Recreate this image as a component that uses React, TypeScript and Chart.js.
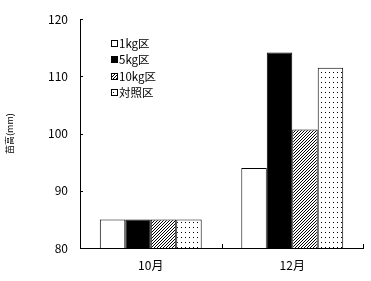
import React, { useEffect, useRef } from "react";
import { Chart, registerables } from "chart.js";

Chart.register(...registerables);

const categories = ["10月", "12月"];
const seriesNames = ["1kg区", "5kg区", "10kg区", "対照区"];
const values1kg = [85, 94];
const values5kg = [85, 114.2];
const values10kg = [85, 100.7];
const valuesControl = [85, 111.5];
const yTicks = [80, 90, 100, 110, 120];
const yTitle = "苗高(mm)";

const FONT = "'Noto Sans CJK JP', 'DejaVu Sans', sans-serif";

function makePattern(kind: "hatch" | "dots"): CanvasPattern | string {
  const w = kind === "hatch" ? 3 : 4;
  const h = kind === "hatch" ? 3 : 5;
  const c = document.createElement("canvas");
  c.width = w;
  c.height = h;
  const ctx = c.getContext("2d");
  if (!ctx) return "#fff";
  const img = ctx.createImageData(w, h);
  for (let y = 0; y < h; y++) {
    for (let x = 0; x < w; x++) {
      let on = false;
      if (kind === "hatch") on = (x + y) % 3 === 2;
      else on = x === 1 && y === 2;
      const i = (y * w + x) * 4;
      const v = on ? 0 : 255;
      img.data[i] = v;
      img.data[i + 1] = v;
      img.data[i + 2] = v;
      img.data[i + 3] = 255;
    }
  }
  ctx.putImageData(img, 0, 0);
  const p = ctx.createPattern(c, "repeat");
  return p || "#fff";
}

export default function App() {
  const ref = useRef<HTMLCanvasElement | null>(null);

  useEffect(() => {
    if (!ref.current) return;
    const fills: (string | CanvasPattern)[] = [
      "#ffffff",
      "#000000",
      makePattern("hatch"),
      makePattern("dots"),
    ];
    const seriesValues = [values1kg, values5kg, values10kg, valuesControl];

    const axesPlugin = {
      id: "inwardTicks",
      afterDatasetsDraw(chart: any) {
        const ctx = chart.ctx;
        const x = chart.scales.x;
        const y = chart.scales.y;
        ctx.save();
        ctx.strokeStyle = "#000";
        ctx.lineWidth = 1;
        ctx.beginPath();
        ctx.moveTo(x.left + 0.5, y.top);
        ctx.lineTo(x.left + 0.5, y.bottom);
        ctx.moveTo(x.left, y.bottom + 0.5);
        ctx.lineTo(x.right + 1, y.bottom + 0.5);
        yTicks.forEach((v) => {
          const py = Math.round(y.getPixelForValue(v)) + 0.5;
          ctx.moveTo(x.left, py);
          ctx.lineTo(x.left + 3, py);
        });
        const n = categories.length;
        for (let i = 1; i <= n; i++) {
          let px: number;
          if (i < n) px = (x.getPixelForValue(i - 1) + x.getPixelForValue(i)) / 2;
          else px = x.right;
          px = Math.round(px) + 0.5;
          ctx.moveTo(px, y.bottom);
          ctx.lineTo(px, y.bottom - 4);
        }
        ctx.stroke();

        ctx.font = `11.5px ${FONT}`;
        ctx.textBaseline = "middle";
        chart.data.datasets.forEach((ds: any, i: number) => {
          const cy = 43 + i * 16.5;
          const bx = 111;
          const by = Math.round(cy - 3.5);
          ctx.fillStyle = ds.backgroundColor;
          ctx.fillRect(bx, by, 7, 7);
          ctx.strokeStyle = "#000";
          ctx.strokeRect(bx + 0.5, by + 0.5, 6, 6);
          ctx.fillStyle = "#000";
          ctx.fillText(ds.label, 119, cy + 0.5);
        });
        ctx.restore();
      },
    };

    const chart = new Chart(ref.current, {
      type: "bar",
      data: {
        labels: categories,
        datasets: seriesNames.map((name, i) => ({
          label: name,
          data: seriesValues[i],
          backgroundColor: fills[i] as any,
          borderColor: "#000",
          borderWidth: 1,
          categoryPercentage: 0.72,
          barPercentage: 1,
        })),
      },
      options: {
        responsive: false,
        animation: false,
        devicePixelRatio: 1,
        layout: { padding: { top: 16, right: 8, left: 0, bottom: 0 } },
        plugins: {
          legend: { display: false },
          tooltip: { enabled: false },
        },
        scales: {
          x: {
            offset: true,
            grid: { display: false, drawTicks: false },
            border: { display: false },
            ticks: {
              color: "#000",
              font: { family: FONT, size: 12 },
              padding: 10,
            },
            afterFit: (s: any) => {
              s.height = 33;
            },
          },
          y: {
            min: 80,
            max: 120,
            afterBuildTicks: (s: any) => {
              s.ticks = yTicks.map((v) => ({ value: v }));
            },
            grid: { display: false, drawTicks: false },
            border: { display: false },
            ticks: {
              color: "#000",
              font: { family: FONT, size: 12 },
              padding: 12,
            },
            title: {
              display: true,
              text: yTitle,
              color: "#000",
              font: { family: FONT, size: 9 },
              padding: { top: 4, bottom: 4 },
            },
            afterFit: (s: any) => {
              s.width = 80;
            },
          },
        },
      },
      plugins: [axesPlugin],
    });
    return () => chart.destroy();
  }, []);

  return (
    <div style={{ position: "fixed", left: 0, top: 0, width: 371, height: 281, background: "#fff" }}>
      <canvas ref={ref} width={371} height={281} style={{ display: "block" }} />
    </div>
  );
}
